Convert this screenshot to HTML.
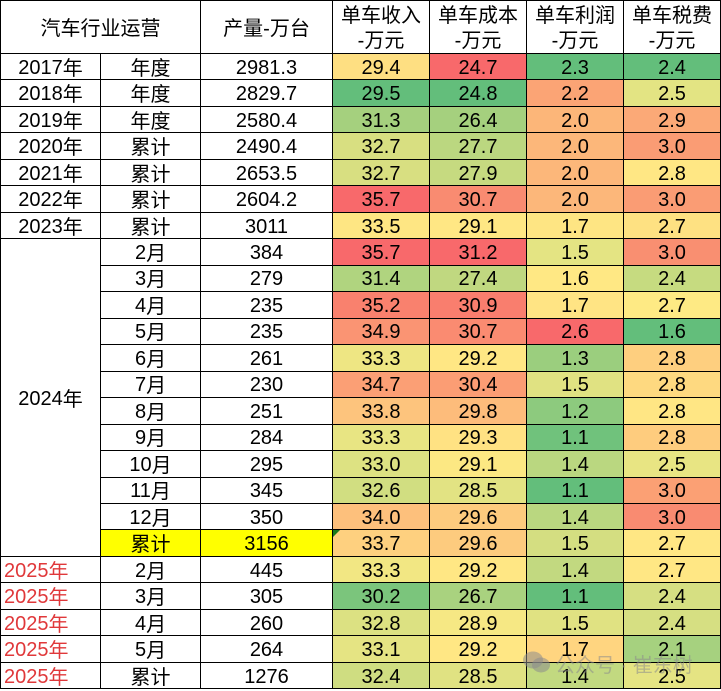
<!DOCTYPE html>
<html><head><meta charset="utf-8">
<style>
html,body{margin:0;padding:0;background:#fff;}
body{width:721px;height:691px;overflow:hidden;position:relative;}
.g{position:absolute;left:0;top:0;width:720px;display:grid;
grid-template-columns:99px 99px 131px 96px 96px 96px 96px;
grid-template-rows:52px repeat(24,25.47px);
column-gap:1px;row-gap:1px;padding:1px 0 1px 1px;background:#000;}
.g>div{background:#fff;display:flex;align-items:center;justify-content:center;
font-family:"Liberation Sans","Noto Sans CJK SC",sans-serif;font-size:20px;color:#000;
padding-top:3px;box-sizing:border-box;white-space:nowrap;overflow:hidden;}
.g>div.h{flex-direction:column;line-height:25px;padding-top:4px;font-size:20px;}
.c{position:relative;top:-2px;}
.r{justify-content:flex-start !important;padding-left:3px;color:#E0383A !important;}
.y{background:#FFFF00 !important;}
.wm{position:absolute;left:555px;top:649px;font-family:"Liberation Sans","Noto Sans CJK SC",sans-serif;font-size:20px;color:rgba(140,140,140,0.55);white-space:nowrap;}
</style></head><body>
<div class="g">
<div class="h" style="grid-column:1/3">汽车行业运营</div>
<div class="h">产量-万台</div>
<div class="h"><span>单车收入</span><span>-万元</span></div>
<div class="h"><span>单车成本</span><span>-万元</span></div>
<div class="h"><span>单车利润</span><span>-万元</span></div>
<div class="h"><span>单车税费</span><span>-万元</span></div>

<div>2017<span class="c">年</span></div><div><span class="c">年度</span></div><div>2981.3</div><div style="background:#FEDF82">29.4</div><div style="background:#F8696B">24.7</div><div style="background:#63BE7B">2.3</div><div style="background:#63BE7B">2.4</div>
<div>2018<span class="c">年</span></div><div><span class="c">年度</span></div><div>2829.7</div><div style="background:#63BE7B">29.5</div><div style="background:#63BE7B">24.8</div><div style="background:#FBA475">2.2</div><div style="background:#E3E483">2.5</div>
<div>2019<span class="c">年</span></div><div><span class="c">年度</span></div><div>2580.4</div><div style="background:#A5D07E">31.3</div><div style="background:#A5D07E">26.4</div><div style="background:#FCB679">2.0</div><div style="background:#FBA977">2.9</div>
<div>2020<span class="c">年</span></div><div><span class="c">累计</span></div><div>2490.4</div><div style="background:#D8DF81">32.7</div><div style="background:#BBD780">27.7</div><div style="background:#FCB77A">2.0</div><div style="background:#FA9C74">3.0</div>
<div>2021<span class="c">年</span></div><div><span class="c">累计</span></div><div>2653.5</div><div style="background:#D8DF81">32.7</div><div style="background:#C6DA80">27.9</div><div style="background:#FCB77A">2.0</div><div style="background:#FFE784">2.8</div>
<div>2022<span class="c">年</span></div><div><span class="c">累计</span></div><div>2604.2</div><div style="background:#F8696B">35.7</div><div style="background:#F98B71">30.7</div><div style="background:#FCB77A">2.0</div><div style="background:#FA9C74">3.0</div>
<div>2023<span class="c">年</span></div><div><span class="c">累计</span></div><div>3011</div><div style="background:#FEE683">33.5</div><div style="background:#FFE784">29.1</div><div style="background:#FEE583">1.7</div><div style="background:#FEE182">2.7</div>

<div style="grid-row:9/21;grid-column:1">2024<span class="c">年</span></div>
<div>2<span class="c">月</span></div><div>384</div><div style="background:#F8696B">35.7</div><div style="background:#F8696B">31.2</div><div style="background:#E4E483">1.5</div><div style="background:#F98F71">3.0</div>
<div>3<span class="c">月</span></div><div>279</div><div style="background:#B0D47F">31.4</div><div style="background:#C0D880">27.4</div><div style="background:#FFE884">1.6</div><div style="background:#C6DB80">2.4</div>
<div>4<span class="c">月</span></div><div>235</div><div style="background:#F9816E">35.2</div><div style="background:#F97E6E">30.9</div><div style="background:#FFE484">1.7</div><div style="background:#FEEA84">2.7</div>
<div>5<span class="c">月</span></div><div>235</div><div style="background:#FA9473">34.9</div><div style="background:#FA8B71">30.7</div><div style="background:#F8696B">2.6</div><div style="background:#63BE7B">1.6</div>
<div>6<span class="c">月</span></div><div>261</div><div style="background:#EEE683">33.3</div><div style="background:#FFE784">29.2</div><div style="background:#9BCE7E">1.3</div><div style="background:#FECF7F">2.8</div>
<div>7<span class="c">月</span></div><div>230</div><div style="background:#FB9F75">34.7</div><div style="background:#FB9D74">30.4</div><div style="background:#E0E282">1.5</div><div style="background:#FED980">2.8</div>
<div>8<span class="c">月</span></div><div>251</div><div style="background:#FDC47D">33.8</div><div style="background:#FDBC7B">29.8</div><div style="background:#8DCA7E">1.2</div><div style="background:#FFE684">2.8</div>
<div>9<span class="c">月</span></div><div>284</div><div style="background:#E8E583">33.3</div><div style="background:#FFE283">29.3</div><div style="background:#70C27C">1.1</div><div style="background:#FECC7E">2.8</div>
<div>10<span class="c">月</span></div><div>295</div><div style="background:#DDE282">33.0</div><div style="background:#FCE883">29.1</div><div style="background:#BAD780">1.4</div><div style="background:#E8E583">2.5</div>
<div>11<span class="c">月</span></div><div>345</div><div style="background:#D1DE81">32.6</div><div style="background:#E2E383">28.5</div><div style="background:#63BE7B">1.1</div><div style="background:#FBA074">3.0</div>
<div>12<span class="c">月</span></div><div>350</div><div style="background:#FDC07C">34.0</div><div style="background:#FDCB7E">29.6</div><div style="background:#BAD780">1.4</div><div style="background:#F98B71">3.0</div>
<div class="y"><span class="c">累计</span></div><div class="y">3156</div><div style="background:#FED07F;position:relative">33.7<span style="position:absolute;left:0;top:0;width:0;height:0;border-top:7px solid #1A7A1A;border-right:7px solid transparent"></span></div><div style="background:#FDCB7E">29.6</div><div style="background:#D4DE81">1.5</div><div style="background:#FFE784">2.7</div>

<div class="r">2025<span class="c">年</span></div><div>2<span class="c">月</span></div><div>445</div><div style="background:#F2E783">33.3</div><div style="background:#FFE784">29.2</div><div style="background:#C2D980">1.4</div><div style="background:#FFE784">2.7</div>
<div class="r">2025<span class="c">年</span></div><div>3<span class="c">月</span></div><div>305</div><div style="background:#7BC57C">30.2</div><div style="background:#A9D27F">26.7</div><div style="background:#63BE7B">1.1</div><div style="background:#D6DF82">2.4</div>
<div class="r">2025<span class="c">年</span></div><div>4<span class="c">月</span></div><div>260</div><div style="background:#DCE182">32.8</div><div style="background:#F6E884">28.9</div><div style="background:#E0E282">1.5</div><div style="background:#D6DF82">2.4</div>
<div class="r">2025<span class="c">年</span></div><div>5<span class="c">月</span></div><div>264</div><div style="background:#E5E483">33.1</div><div style="background:#FFE784">29.2</div><div style="background:#FFD580">1.7</div><div style="background:#A6D17F">2.1</div>
<div class="r">2025<span class="c">年</span></div><div><span class="c">累计</span></div><div>1276</div><div style="background:#CFDD81">32.4</div><div style="background:#E0E282">28.5</div><div style="background:#C2D980">1.4</div><div style="background:#E5E483">2.5</div>
</div>

<svg style="position:absolute;left:522px;top:650px" width="30" height="24" viewBox="0 0 30 24">
<ellipse cx="11" cy="10" rx="10" ry="8.5" fill="rgba(140,140,140,0.55)"/>
<ellipse cx="19" cy="15" rx="9" ry="7.5" fill="rgba(140,140,140,0.55)"/>
</svg>
<div class="wm">公众号 · 崔东树</div>
</body></html>
